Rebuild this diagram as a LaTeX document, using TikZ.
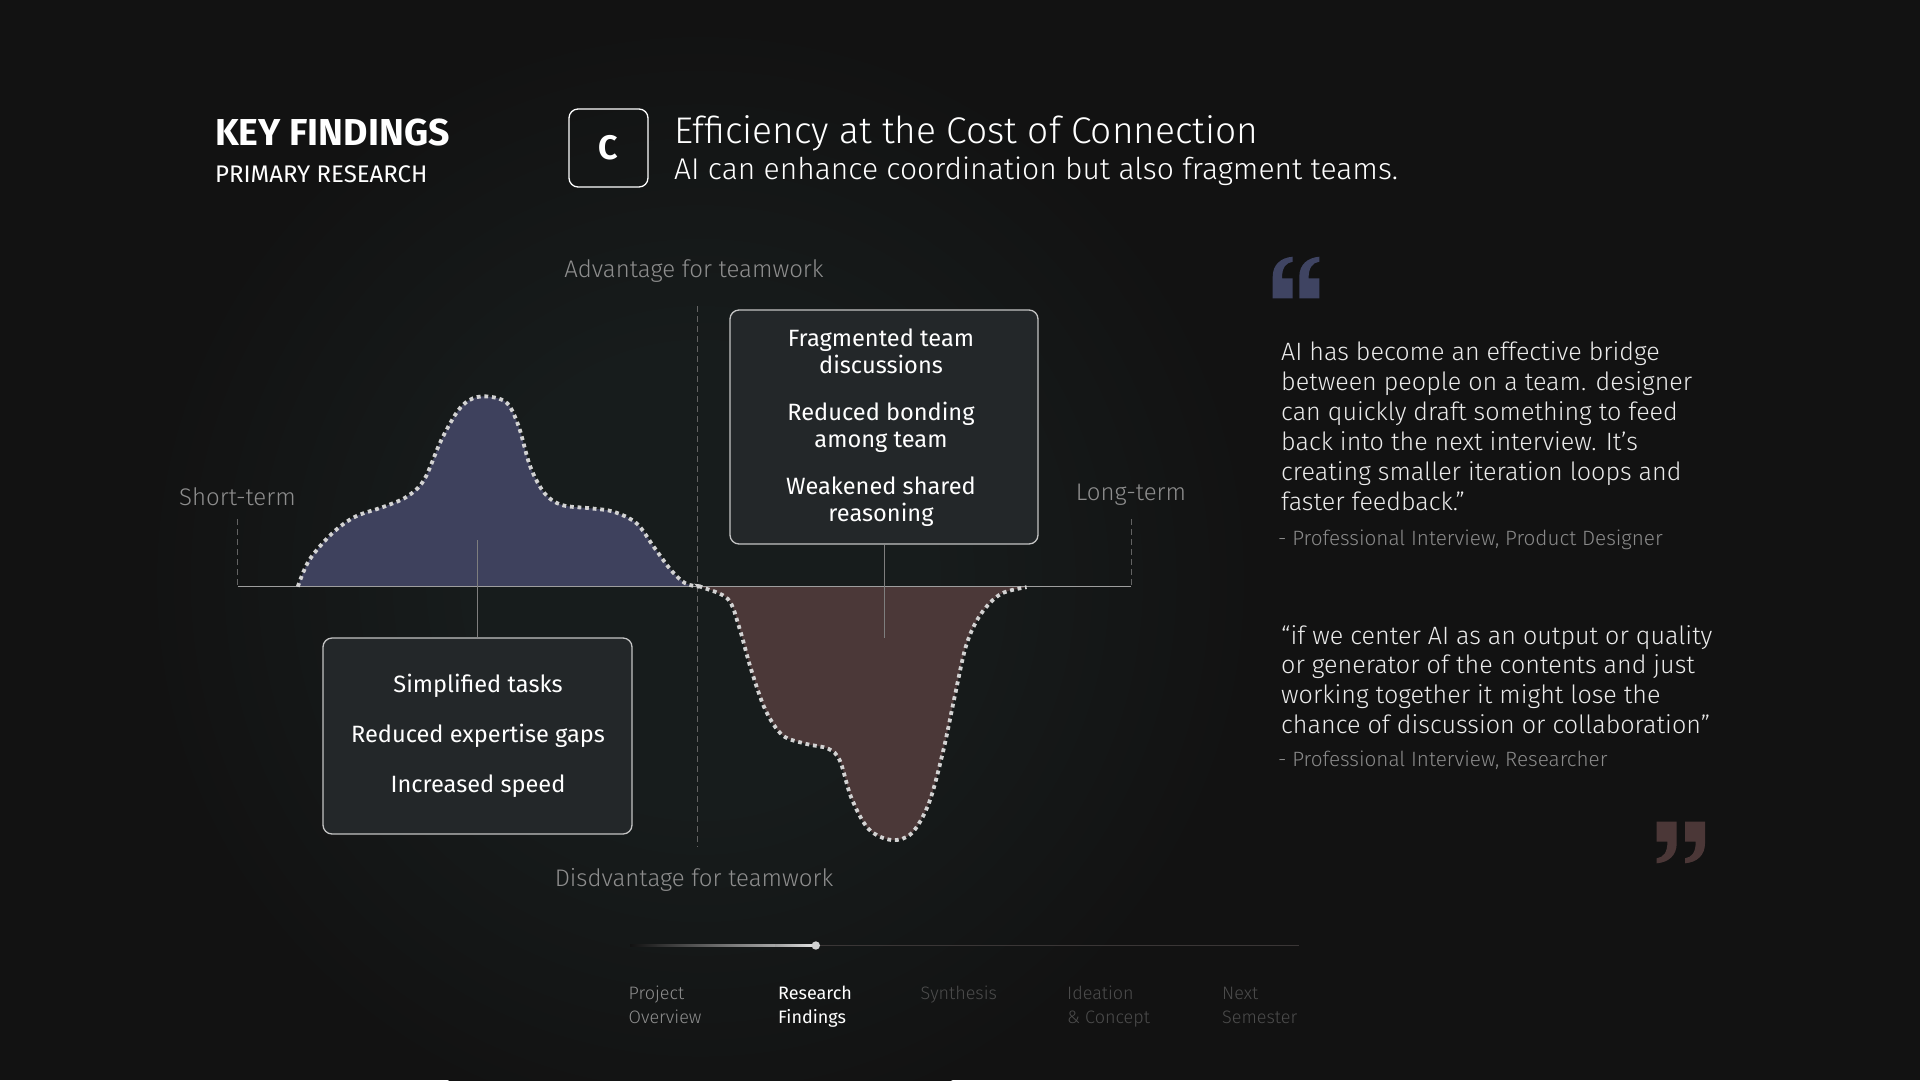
\documentclass[tikz,border=0pt]{standalone}
\usepackage{fontspec}
\setmainfont{Fira Sans}
\newfontfamily\flight{Fira Sans Light}
\definecolor{bgc}{HTML}{121212}
\definecolor{glowc}{HTML}{171C1C}
\definecolor{humpblue}{HTML}{3E415D}
\definecolor{dipred}{HTML}{4B3838}
\definecolor{boxfill}{HTML}{232729}
\definecolor{boxline}{HTML}{C4C4C4}
\definecolor{dotc}{HTML}{D2D2D2}
\definecolor{axisc}{HTML}{9E9E9E}
\definecolor{labelc}{HTML}{8E8E8E}
\definecolor{dimc}{HTML}{4C4C4C}
\definecolor{qblue}{HTML}{3F4462}
\definecolor{qbrown}{HTML}{4B3737}
\definecolor{attrc}{HTML}{8A8A8A}
\definecolor{navbase}{HTML}{3A3636}
\pgfdeclareradialshading{glowshade}{\pgfpoint{0bp}{0bp}}{color(0bp)=(glowc); color(10bp)=(glowc); color(25bp)=(bgc); color(50bp)=(bgc)}
\tikzset{
  dotline/.style={draw=dotc, line width=3.8pt, dash pattern=on 3.8pt off 3.8pt},
  vdash/.style={draw=labelc!70!black, line width=0.9pt, dash pattern=on 6pt off 4pt},
  axisline/.style={draw=axisc, line width=1.6pt},
  stem/.style={draw=axisc!80!black, line width=1pt},
  infobox/.style={draw=boxline, fill=boxfill, line width=1.3pt, rounded corners=9pt, inner sep=0pt},
  boxtxt/.style={text=white, font=\fontsize{23.6}{27}\selectfont, inner sep=0pt, anchor=base},
  axlabel/.style={text=labelc, font=\flight\fontsize{24}{28}\selectfont, inner sep=0pt, anchor=base},
  qtxt/.style={text=white!92!black, font=\flight\fontsize{25.1}{30}\selectfont, inner sep=0pt, anchor=base west},
  attr/.style={text=attrc, font=\flight\fontsize{20.7}{24}\selectfont, inner sep=0pt, anchor=base west},
  navtxt/.style={font=\flight\fontsize{18}{24}\selectfont, inner sep=0pt, anchor=base west},
  qmark/.pic={\fill (0,41.6) -- (0,20) .. controls (0,8) and (8,1) .. (20,0) -- (20,5) .. controls (13,6) and (9.3,11) .. (9.3,21.6) -- (20,21.6) -- (20,41.6) -- cycle;}
}
\begin{document}
\begin{tikzpicture}[x=1pt,y=-1pt]
\useasboundingbox (0,0) rectangle (1920,1080);
\fill[bgc] (0,0) rectangle (1920,1080);
\begin{scope}
\clip (0,0) rectangle (1920,1080);
\shade[shading=glowshade] (700,580) circle (560);
\end{scope}

% header
\node[inner sep=0pt, anchor=base west, text=white, font=\bfseries\fontsize{37.5}{42}\selectfont] (kf) at (215,145) {KEY FINDINGS};
\node[inner sep=0pt, anchor=base west, text=white, font=\fontsize{24}{28}\selectfont] (pr) at (215,182.7) {PRIMARY RESEARCH};
\node[draw=white, line width=1.3pt, rounded corners=9pt, minimum width=79pt, minimum height=78pt, inner sep=0pt] (cbox) at (608.5,148) {};
\node[text=white, font=\bfseries\fontsize{34}{40}\selectfont, inner sep=0pt] (cl) at (cbox.center) {C};
\node[inner sep=0pt, anchor=base west, text=white, font=\flight\fontsize{37.1}{42}\selectfont] (title) at (674,143.3) {Efficiency at the Cost of Connection};
\node[inner sep=0pt, anchor=base west, text=white, font=\flight\fontsize{30}{34}\selectfont] (sub) at (674,179.3) {AI can enhance coordination but also fragment teams.};

% graph
\coordinate (axL) at (237.5,586.5);
\coordinate (axR) at (1131,586.5);
\coordinate (stTop) at (237.5,519);
\coordinate (ltTop) at (1131,519);
\coordinate (vTop) at (697,306);
\coordinate (vBot) at (697,847);

\fill[humpblue] plot[smooth, tension=0.55] coordinates {(297.8,586.7) (309.3,560) (332.2,533.3) (355.2,516.7) (383.9,506.7) (406.8,496.7) (424,480) (441.3,440) (458.5,410) (472.9,398.3) (490,396.7) (507.3,403.3) (518.8,426.7) (530.3,466.7) (544.6,493.3) (561.8,505) (590.5,508.3) (613.5,511.7) (636.5,523.3) (653.7,546.7) (670.9,570) (685.3,583.3) (699.6,586.7)} -- cycle;
\fill[dipred] plot[smooth, tension=0.55] coordinates {(702,587.2) (727.9,599) (739.4,628) (750.9,668.8) (765.3,709.7) (782.5,735.2) (805.5,743.7) (828.4,748.8) (839.9,760.7) (851.4,798) (868.6,829) (891.6,840) (911.7,833.2) (929,802.9) (943.3,750.5) (954.8,696) (966.3,645) (980.6,614.4) (1000.7,594) (1026.6,587.2)} -- cycle;

\draw[vdash] (vTop) -- (vBot);
\draw[vdash] (stTop) -- (axL);
\draw[vdash] (ltTop) -- (axR);
\draw[axisline] (axL) -- (axR);

\draw[dotline] plot[smooth, tension=0.55] coordinates {(297.8,586.7) (309.3,560) (332.2,533.3) (355.2,516.7) (383.9,506.7) (406.8,496.7) (424,480) (441.3,440) (458.5,410) (472.9,398.3) (490,396.7) (507.3,403.3) (518.8,426.7) (530.3,466.7) (544.6,493.3) (561.8,505) (590.5,508.3) (613.5,511.7) (636.5,523.3) (653.7,546.7) (670.9,570) (685.3,583.3) (699.6,586.7)};
\draw[dotline] plot[smooth, tension=0.55] coordinates {(699.6,586.7) (702,587.2) (727.9,599) (739.4,628) (750.9,668.8) (765.3,709.7) (782.5,735.2) (805.5,743.7) (828.4,748.8) (839.9,760.7) (851.4,798) (868.6,829) (891.6,840) (911.7,833.2) (929,802.9) (943.3,750.5) (954.8,696) (966.3,645) (980.6,614.4) (1000.7,594) (1026.6,587.2)};

\node[axlabel] (adv) at (694,277) {Advantage for teamwork};
\node[axlabel] (dis) at (694,886) {Disdvantage for teamwork};
\node[axlabel] (st) at (237.5,505) {Short-term};
\node[axlabel] (lt) at (1131,500) {Long-term};

% boxes
\node[infobox, minimum width=308pt, minimum height=234pt] (topbox) at (884,427) {};
\node[infobox, minimum width=309pt, minimum height=196pt] (botbox) at (477.5,736) {};
\coordinate (bStem) at (477.5,540);
\coordinate (rStem) at (884,638);
\draw[stem] (bStem) -- (botbox.north);
\draw[stem] (topbox.south) -- (rStem);

\node[boxtxt] (ta1) at (881,346.7) {Fragmented team};
\node[boxtxt] (ta2) at (881,373.3) {discussions};
\node[boxtxt] (tb1) at (881,420) {Reduced bonding};
\node[boxtxt] (tb2) at (881,447.3) {among team};
\node[boxtxt] (tc1) at (881,494) {Weakened shared};
\node[boxtxt] (tc2) at (881,521.7) {reasoning};

\node[boxtxt] (ba) at (478,692.4) {Simplified tasks};
\node[boxtxt] (bb) at (478,742.7) {Reduced expertise gaps};
\node[boxtxt] (bc) at (478,792.7) {Increased speed};

% quotes
\pic[fill=qblue] (qo1) at (1272.7,256.7) {qmark};
\pic[fill=qblue] (qo2) at (1299.3,256.7) {qmark};
\pic[fill=qbrown, rotate=180] (qc1) at (1676.7,863.3) {qmark};
\pic[fill=qbrown, rotate=180] (qc2) at (1705,863.3) {qmark};

\node[qtxt] (q1) at (1281,360.4) {AI has become an effective bridge};
\node[qtxt] (q2) at (1281,390.4) {between people on a team. designer};
\node[qtxt] (q3) at (1281,420.4) {can quickly draft something to feed};
\node[qtxt] (q4) at (1281,450.4) {back into the next interview. It’s};
\node[qtxt] (q5) at (1281,480.4) {creating smaller iteration loops and};
\node[qtxt] (q6) at (1281,510.4) {faster feedback.”};
\node[attr] (a1) at (1278,545) {- Professional Interview, Product Designer};

\node[qtxt] (r1) at (1281,644) {“if we center AI as an output or quality};
\node[qtxt] (r2) at (1281,673.5) {or generator of the contents and just};
\node[qtxt] (r3) at (1281,703) {working together it might lose the};
\node[qtxt] (r4) at (1281,733) {chance of discussion or collaboration”};
\node[attr] (a2) at (1278,766.5) {- Professional Interview, Researcher};

% navigation
\coordinate (navL) at (630,945.5);
\coordinate (navR) at (1299,945.5);
\coordinate (navM) at (775,945.5);
\coordinate (navD) at (815.8,945.5);
\draw[navbase, line width=1.5pt] (navL) -- (navR);
\shade[left color=bgc, right color=gray!70] (630,944.5) rectangle (775,946.5);
\shade[left color=gray!75, right color=white!90!black] (775,944.3) rectangle (815.8,946.7);
\fill[white!82!black] (navD) circle (4.2);

\node[navtxt, text=labelc] (n1a) at (628.5,999) {Project};
\node[navtxt, text=labelc] (n1b) at (628.5,1023) {Overview};
\node[navtxt, text=white, font=\fontsize{18}{24}\selectfont] (n2a) at (778,999) {Research};
\node[navtxt, text=white, font=\fontsize{18}{24}\selectfont] (n2b) at (778,1023) {Findings};
\node[navtxt, text=dimc] (n3a) at (920.5,999) {Synthesis};
\node[navtxt, text=dimc] (n4a) at (1067,999) {Ideation};
\node[navtxt, text=dimc] (n4b) at (1067,1023) {\& Concept};
\node[navtxt, text=dimc] (n5a) at (1222,999) {Next};
\node[navtxt, text=dimc] (n5b) at (1222,1023) {Semester};
\end{tikzpicture}
\end{document}
